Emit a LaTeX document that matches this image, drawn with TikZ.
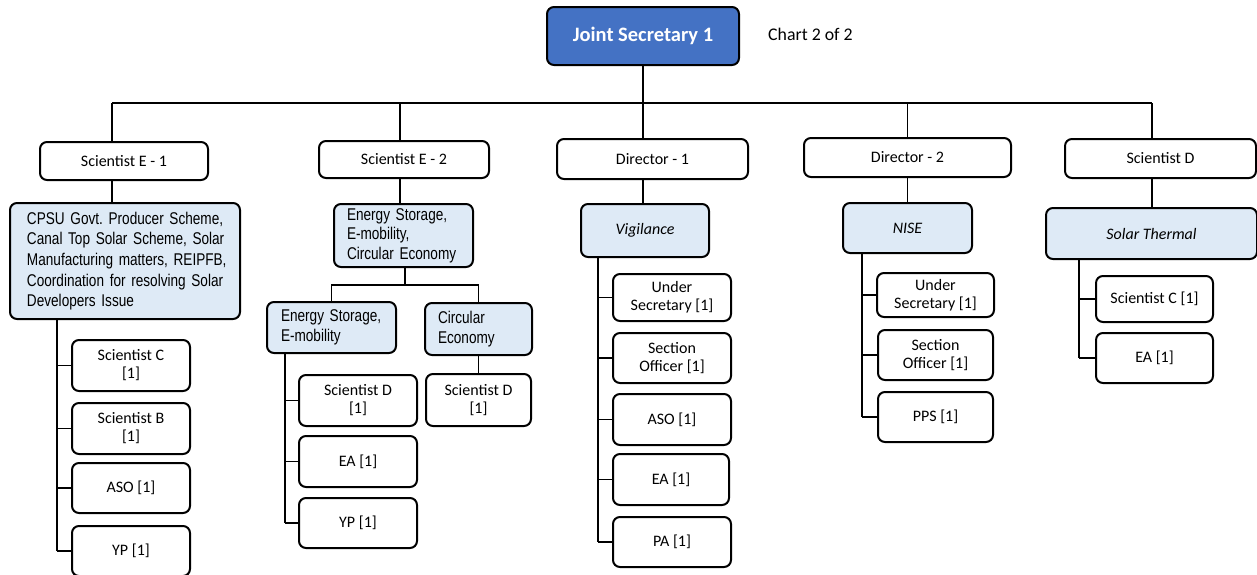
\documentclass[tikz,border=0pt]{standalone}
\usepackage{fontspec}
\setmainfont{Carlito}
\newfontfamily\narrowsans[FakeStretch=0.8]{Liberation Sans}
\definecolor{areablue}{RGB}{222,234,246}
\definecolor{headblue}{RGB}{68,114,196}
\hfuzz=20pt

% \orgbox{style}{name}{x1}{y1}{x2}{y2}{text}: a box given by its corners
\newcommand\orgbox[7]{%
  \pgfmathsetmacro\obcx{(#3+#5)/2}%
  \pgfmathsetmacro\obcy{(#4+#6)/2}%
  \pgfmathsetmacro\obw{#5-#3}%
  \pgfmathsetmacro\obh{#6-#4}%
  \node[#1, minimum width=\obw pt, minimum height=\obh pt] (#2) at (\obcx,\obcy) {#7};}

\begin{document}
\frenchspacing
\begin{tikzpicture}[x=1pt,y=-1pt,
  box/.style={draw=black, line width=2pt, rounded corners=7pt, fill=white,
    align=center, inner sep=2pt, font=\fontsize{16}{18}\selectfont},
  area/.style={box, fill=areablue},
  areait/.style={area, font=\fontsize{16}{18}\itshape\selectfont},
  areatext/.style={area, align=left, font=\narrowsans\fontsize{17}{19.5}\selectfont},
  head/.style={box, fill=headblue, text=white, font=\fontsize{20.5}{24}\bfseries\selectfont},
  link/.style={line width=1.9pt}]
\useasboundingbox (0,0) rectangle (1257,574);

% top
\orgbox{head}{js}{547}{7}{739}{65}{Joint Secretary 1}
\node[font=\fontsize{17.8}{20}\selectfont, anchor=west, inner sep=2pt] (chart) at (766,34) {Chart 2 of 2};

% first level
\orgbox{box}{se1}{40}{142}{208}{180}{Scientist E - 1}
\orgbox{box}{se2}{319}{141}{489}{178}{Scientist E - 2}
\orgbox{box}{d1}{557}{139}{748}{179}{Director - 1}
\orgbox{box}{d2}{804}{138}{1011}{177}{Director - 2}
\orgbox{box}{sd}{1065}{139}{1256}{178}{Scientist D}

% subject areas
\orgbox{areatext, text width=196pt, font=\narrowsans\fontsize{17}{20.7}\selectfont}{cpsu}{10}{203}{240}{319}{\mbox{CPSU Govt. Producer Scheme,}\\\mbox{Canal Top Solar Scheme, Solar}\\\mbox{Manufacturing matters, REIPFB,}\\\mbox{Coordination for resolving Solar}\\\mbox{Developers Issue}}
\orgbox{areatext, text width=113pt}{es}{334}{204}{473}{267}{Energy Storage,\\E-mobility,\\Circular Economy}
\orgbox{areait}{vig}{581}{204}{709}{257}{Vigilance}
\orgbox{areait}{nise}{843}{203}{972}{253}{NISE}
\orgbox{areait}{st}{1046}{208}{1257}{259}{Solar Thermal}
\orgbox{areatext, text width=101pt}{esm}{267}{302}{396}{353}{Energy Storage,\\E-mobility}
\orgbox{areatext, text width=81pt}{ce}{425}{303}{532}{355}{Circular\\Economy}

% staff, column 1
\orgbox{box}{c1a}{72}{340}{190}{391}{Scientist C\\{[1]}}
\orgbox{box}{c1b}{72}{403}{190}{454}{Scientist B\\{[1]}}
\orgbox{box}{c1c}{72}{463}{190}{513}{ASO [1]}
\orgbox{box}{c1d}{72}{526}{190}{576}{YP [1]}
% staff, column 2
\orgbox{box}{c2a}{299}{375}{417}{426}{Scientist D\\{[1]}}
\orgbox{box}{c2b}{299}{436}{417}{487}{EA [1]}
\orgbox{box}{c2c}{299}{498}{417}{548}{YP [1]}
\orgbox{box}{c2d}{426}{374}{531}{426}{Scientist D\\{[1]}}
% staff, column 3
\orgbox{box}{c3a}{613}{274}{731}{321}{Under\\Secretary [1]}
\orgbox{box}{c3b}{613}{333}{731}{383}{Section\\Officer [1]}
\orgbox{box}{c3c}{613}{394}{731}{445}{ASO [1]}
\orgbox{box}{c3d}{613}{454}{729}{505}{EA [1]}
\orgbox{box}{c3e}{613}{517}{731}{567}{PA [1]}
% staff, column 4
\orgbox{box}{c4a}{877}{273}{994}{317}{Under\\Secretary [1]}
\orgbox{box}{c4b}{878}{330}{993}{380}{Section\\Officer [1]}
\orgbox{box}{c4c}{878}{392}{993}{442}{PPS [1]}
% staff, column 5
\orgbox{box}{c5a}{1096}{276}{1213}{322}{Scientist C [1]}
\orgbox{box}{c5b}{1096}{333}{1213}{383}{EA [1]}

% main bar and drops
\coordinate (barL) at (112,103);
\coordinate (barR) at (1152,103);
\coordinate (t2) at (400,103);
\draw[link] (barL) -- (barR);
\draw[link] (js.south) -- (js.south |- d1.north);
\draw[link] (barL) -- (barL |- se1.north);
\draw[link] (t2) -- (t2 |- se2.north);
\draw[link] (d2.north |- barL) -- (d2.north);
\draw[link] (barR) -- (barR |- sd.north);

% heads to their subject areas
\draw[link] (barL |- se1.south) -- (barL |- cpsu.north);
\draw[link] (t2 |- se2.south) -- (t2 |- es.north);
\draw[link] (js.south |- d1.south) -- (js.south |- vig.north);
\draw[link] (d2.south) -- (nise.north);
\draw[link] (barR |- sd.south) -- (barR |- st.north);

% split of energy storage / circular economy
\coordinate (fork) at (405,285);
\draw[link] (es.south -| fork) -- (fork);
\draw[link] (esm.north) |- (fork) -| (ce.north);
\draw[link] (ce.south) -- (c2d.north);

% spines to staff boxes
\coordinate (s1) at (57,551);
\draw[link] (cpsu.south -| s1) -- (s1);
\foreach \b in {c1a,c1b,c1c,c1d} \draw[link] (\b.west -| s1) -- (\b.west);
\coordinate (s2) at (285,523);
\draw[link] (esm.south -| s2) -- (s2);
\foreach \b in {c2a,c2b,c2c} \draw[link] (\b.west -| s2) -- (\b.west);
\coordinate (s3) at (598,542);
\draw[link] (vig.south -| s3) -- (s3);
\foreach \b in {c3a,c3b,c3c,c3d,c3e} \draw[link] (\b.west -| s3) -- (\b.west);
\coordinate (s4) at (862,417);
\draw[link] (nise.south -| s4) -- (s4);
\foreach \b in {c4a,c4b,c4c} \draw[link] (\b.west -| s4) -- (\b.west);
\coordinate (s5) at (1079,358);
\draw[link] (st.south -| s5) -- (s5);
\foreach \b in {c5a,c5b} \draw[link] (\b.west -| s5) -- (\b.west);
\end{tikzpicture}
\end{document}
